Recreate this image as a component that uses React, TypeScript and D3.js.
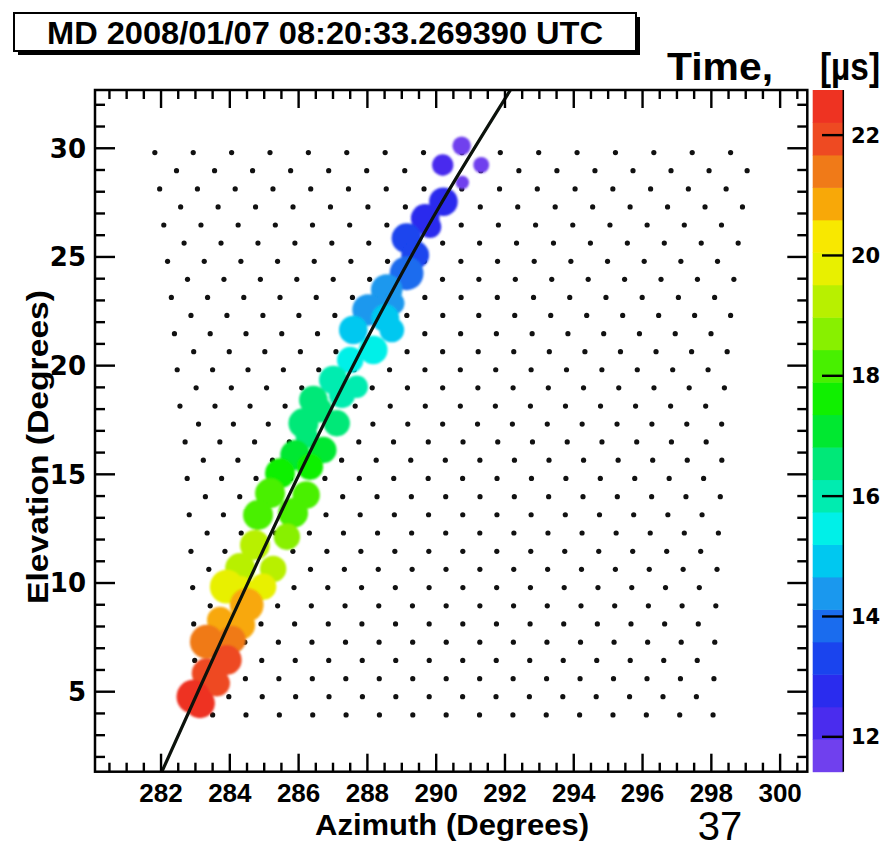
import React, { useRef, useEffect } from 'react';
import * as d3 from 'd3';

// ---- values ----
const titleText = 'MD 2008/01/07 08:20:33.269390 UTC';
const pageNumber = '37';

const azTicks = [282, 284, 286, 288, 290, 292, 294, 296, 298, 300];
const elTicks = [5, 10, 15, 20, 25, 30];
const timeTicks = [12, 14, 16, 18, 20, 22];

// PMT rows of the two cameras (lower camera first, then upper camera, bottom to top)
const pmtRowEl = [
  3.93, 4.77, 5.6, 6.44, 7.28, 8.12, 8.95, 9.79, 10.63, 11.46, 12.3, 13.14, 13.97, 14.81, 15.65, 16.49,
  17.31, 18.14, 18.98, 19.81, 20.64, 21.47, 22.31, 23.14, 23.97, 24.8, 25.64, 26.47, 27.3, 28.13, 28.97, 29.8,
];
const pmtRowFirstAz = [
  283.5, 283.0, 283.48, 282.98, 283.46, 282.95, 283.43, 282.92, 283.39, 282.87, 283.34, 282.82, 283.29, 282.76, 283.23, 282.7,
  283.09, 282.55, 283.02, 282.47, 282.95, 282.39, 282.87, 282.3, 282.77, 282.19, 282.67, 282.08, 282.57, 281.96, 282.45, 281.82,
];
const pmtRowStepAz = [
  0.97, 0.971, 0.973, 0.974, 0.976, 0.978, 0.98, 0.982, 0.985, 0.988, 0.991, 0.994, 0.998, 1.001, 1.005, 1.01,
  1.014, 1.019, 1.024, 1.029, 1.034, 1.04, 1.046, 1.053, 1.059, 1.066, 1.074, 1.081, 1.089, 1.098, 1.106, 1.116,
];
const pmtPerRow = 16;

// hit tubes: direction, signal and trigger time (us)
const hitAz = [
  290.74, 290.19, 291.31, 290.76, 290.21, 289.68, 289.82, 289.14, 289.39, 289.14, 288.56, 288.75, 288.02, 288.52,
  288.71, 287.59, 288.17, 287.5, 287.01, 287.69, 287.26, 286.43, 286.62, 286.14, 287.11, 286.24, 285.9, 286.72,
  286.33, 285.46, 285.17, 286.22, 284.82, 285.84, 284.73, 285.66, 284.3, 285.26, 283.91, 284.97, 284.3, 284.49,
  283.72, 284.3, 284.06, 283.33, 283.91, 283.33, 283.62, 282.94, 283.13,
];
const hitEl = [
  30.11, 29.23, 29.23, 28.42, 27.54, 26.78, 26.39, 25.86, 25.09, 24.25, 23.48, 22.87, 22.56, 22.18,
  21.64, 21.64, 20.72, 20.26, 19.34, 19.03, 18.65, 18.42, 17.96, 17.35, 17.35, 16.73, 15.89, 16.12,
  15.35, 15.05, 14.13, 14.05, 13.13, 13.22, 11.75, 12.13, 10.69, 10.65, 9.83, 9.83, 9.68, 8.99,
  8.3, 8.07, 7.39, 7.3, 6.46, 5.85, 5.39, 4.77, 4.47,
];
const hitSignal = [
  66, 88, 49, 35, 158, 158, 98, 173, 150, 220, 191, 98, 191, 150,
  118, 158, 158, 134, 158, 98, 130, 158, 120, 173, 134, 98, 173, 134,
  134, 173, 173, 145, 173, 173, 173, 134, 173, 134, 220, 134, 150, 220,
  134, 173, 150, 220, 173, 173, 134, 220, 173,
];
const hitTime = [
  11.7, 12.0, 11.8, 11.9, 12.5, 12.8, 13.0, 13.2, 13.4, 13.7, 14.3, 14.4, 14.6, 14.7,
  14.9, 14.8, 15.2, 15.5, 15.9, 15.9, 16.1, 16.3, 16.4, 16.5, 16.6, 16.8, 17.1, 17.1,
  17.5, 17.6, 18.0, 18.0, 18.4, 18.4, 19.0, 18.9, 19.5, 19.4, 19.9, 19.8, 20.0, 20.7,
  20.9, 21.0, 21.2, 21.4, 21.9, 22.0, 22.1, 22.5, 22.5,
];

// shower-detector plane fit, sampled along the drawn line
const fitAz = [281.95, 284, 286, 288, 290, 292.3];
const fitEl = [1.06, 8.21, 14.95, 21.27, 27.07, 33.04];

// colour bands of the time palette, low time to high time
const palette = [
  '#7040ee', '#4a2cee', '#2a2cee', '#1a44ee', '#1a6cee', '#1a98ee', '#00c8f0',
  '#00f0e8', '#00ecb0', '#00e878', '#00e830', '#10f000', '#48f000', '#88f000',
  '#b8f000', '#e8f000', '#f8e800', '#f8a808', '#f07a18', '#ee4a22', '#ee3322',
];

const FONT = "'Liberation Sans', Arial, Helvetica, sans-serif";
const WIDE = "'DejaVu Sans', Verdana, sans-serif";

function EventDisplay() {
  const svgRef = useRef<SVGSVGElement>(null);

  useEffect(() => {
    const svg = d3.select(svgRef.current);
    svg.selectAll('*').remove();

    const left = 95, right = 807.3, top = 90, bottom = 771.7;

    const x = d3.scaleLinear().domain([280.08, 300.79]).range([left, right]);
    const y = d3.scaleLinear().domain([1.32, 32.68]).range([bottom, top]);
    const r = d3.scaleSqrt().domain([0, 250]).range([0, 18]);
    const zRange: [number, number] = [11.42, 22.75];
    const color = d3.scaleQuantize<string>().domain(zRange).range(palette);
    const z = d3.scaleLinear().domain(zRange).range([bottom, top]);

    svg.append('rect').attr('width', 892).attr('height', 843).attr('fill', '#fff');

    const defs = svg.append('defs');
    defs.append('filter').attr('id', 'soft').attr('x', '-20%').attr('y', '-20%').attr('width', '140%').attr('height', '140%')
      .append('feGaussianBlur').attr('stdDeviation', 0.8);
    defs.append('clipPath').attr('id', 'plotClip').append('rect')
      .attr('x', left).attr('y', top).attr('width', right - left).attr('height', bottom - top);

    // title pave with shadow
    svg.append('rect').attr('x', 18).attr('y', 17).attr('width', 622).attr('height', 38).attr('fill', '#000');
    svg.append('rect').attr('x', 14).attr('y', 13).attr('width', 622).attr('height', 38)
      .attr('fill', '#fff').attr('stroke', '#000').attr('stroke-width', 2);
    svg.append('text').attr('x', 325).attr('y', 44).attr('text-anchor', 'middle')
      .attr('font-family', FONT).attr('font-weight', 'bold').attr('font-size', 32)
      .attr('textLength', 556).attr('lengthAdjust', 'spacingAndGlyphs')
      .text(titleText);

    const plot = svg.append('g').attr('clip-path', 'url(#plotClip)');

    // PMT grid
    const pmts: [number, number][] = [];
    pmtRowEl.forEach((el, i) => {
      for (let c = 0; c < pmtPerRow; c++) pmts.push([pmtRowFirstAz[i] + c * pmtRowStepAz[i], el]);
    });
    plot.selectAll('.pmt').data(pmts).join('circle')
      .attr('class', 'pmt')
      .attr('cx', (d) => x(d[0])).attr('cy', (d) => y(d[1]))
      .attr('r', 2.6).attr('fill', '#111');

    // hit tubes
    const hits = hitAz.map((az, i) => ({ az, el: hitEl[i], s: hitSignal[i], t: hitTime[i] }));
    plot.append('g').attr('filter', 'url(#soft)')
      .selectAll('.hit').data(hits).join('circle')
      .attr('class', 'hit')
      .attr('cx', (d) => x(d.az)).attr('cy', (d) => y(d.el))
      .attr('r', (d) => r(d.s)).attr('fill', (d) => color(d.t));

    // fit line
    const line = d3.line<number>()
      .x((d, i) => x(fitAz[i])).y((d, i) => y(fitEl[i]))
      .curve(d3.curveCatmullRom);
    plot.append('path').datum(fitAz).attr('d', line)
      .attr('fill', 'none').attr('stroke', '#0c120c').attr('stroke-width', 3.2);

    // frame and ticks
    svg.append('rect').attr('x', left).attr('y', top).attr('width', right - left).attr('height', bottom - top)
      .attr('fill', 'none').attr('stroke', '#000').attr('stroke-width', 2.5);

    const ticks = svg.append('g').attr('stroke', '#000').attr('stroke-width', 2.4);
    const azMinor = d3.range(280.5, 300.8, 0.5).filter((v) => !azTicks.includes(v));
    const elMinor = d3.range(2, 33, 1).filter((v) => !elTicks.includes(v));
    const xt = [...azTicks.map((v) => ({ v, len: 18 })), ...azMinor.map((v) => ({ v, len: 9 }))];
    const yt = [...elTicks.map((v) => ({ v, len: 20 })), ...elMinor.map((v) => ({ v, len: 10 }))];
    xt.forEach(({ v, len }) => {
      ticks.append('line').attr('x1', x(v)).attr('x2', x(v)).attr('y1', bottom).attr('y2', bottom - len);
      ticks.append('line').attr('x1', x(v)).attr('x2', x(v)).attr('y1', top).attr('y2', top + len);
    });
    yt.forEach(({ v, len }) => {
      ticks.append('line').attr('y1', y(v)).attr('y2', y(v)).attr('x1', left).attr('x2', left + len);
      ticks.append('line').attr('y1', y(v)).attr('y2', y(v)).attr('x1', right).attr('x2', right - len);
    });

    svg.selectAll('.xlab').data(azTicks).join('text')
      .attr('class', 'xlab')
      .attr('x', (d) => x(d)).attr('y', 802).attr('text-anchor', 'middle')
      .attr('font-family', FONT).attr('font-weight', 'bold').attr('font-size', 26)
      .text((d) => d);

    svg.selectAll('.ylab').data(elTicks).join('text')
      .attr('class', 'ylab')
      .attr('x', 86).attr('y', (d) => y(d)).attr('dy', '0.36em').attr('text-anchor', 'end')
      .attr('font-family', WIDE).attr('font-weight', 'bold').attr('font-size', 26)
      .text((d) => d);

    // colour bar
    const zl = 812.7, zr = 843.3;
    const bandEdges = d3.range(palette.length + 1).map((i) => zRange[0] + (i * (zRange[1] - zRange[0])) / palette.length);
    svg.selectAll('.band').data(palette).join('rect')
      .attr('class', 'band')
      .attr('x', zl).attr('width', zr - zl)
      .attr('y', (d, i) => z(bandEdges[i + 1])).attr('height', (d, i) => z(bandEdges[i]) - z(bandEdges[i + 1]) + 0.5)
      .attr('fill', (d) => d);
    svg.append('line').attr('x1', zr).attr('x2', zr).attr('y1', top).attr('y2', bottom)
      .attr('stroke', '#000').attr('stroke-width', 1.5);
    svg.selectAll('.ztick').data(timeTicks).join('line')
      .attr('class', 'ztick')
      .attr('x1', 822).attr('x2', zr).attr('y1', (d) => z(d)).attr('y2', (d) => z(d))
      .attr('stroke', '#000').attr('stroke-width', 2.4);
    svg.selectAll('.zlab').data(timeTicks).join('text')
      .attr('class', 'zlab')
      .attr('x', 851).attr('y', (d) => z(d)).attr('dy', '0.36em')
      .attr('font-family', WIDE).attr('font-weight', 'bold').attr('font-size', 21)
      .text((d) => d);

    // axis titles
    svg.append('text').attr('x', 452).attr('y', 835).attr('text-anchor', 'middle')
      .attr('font-family', FONT).attr('font-weight', 'bold').attr('font-size', 29)
      .attr('textLength', 274).attr('lengthAdjust', 'spacingAndGlyphs')
      .text('Azimuth (Degrees)');
    svg.append('text').attr('transform', 'translate(48,447) rotate(-90)').attr('text-anchor', 'middle')
      .attr('font-family', FONT).attr('font-weight', 'bold').attr('font-size', 29)
      .attr('textLength', 314).attr('lengthAdjust', 'spacingAndGlyphs')
      .text('Elevation (Degrees)');

    svg.append('text').attr('x', 667).attr('y', 80)
      .attr('font-family', FONT).attr('font-weight', 'bold').attr('font-size', 38)
      .attr('textLength', 106).attr('lengthAdjust', 'spacingAndGlyphs')
      .text('Time,');
    svg.append('text').attr('x', 880).attr('y', 80).attr('text-anchor', 'end')
      .attr('font-family', FONT).attr('font-weight', 'bold').attr('font-size', 38)
      .attr('textLength', 60).attr('lengthAdjust', 'spacingAndGlyphs')
      .text('[\u00b5s]');

    svg.append('text').attr('x', 720).attr('y', 840).attr('text-anchor', 'middle')
      .attr('font-family', FONT).attr('font-size', 40)
      .text(pageNumber);
  }, []);

  return <svg ref={svgRef} width={892} height={843} style={{ display: 'block' }} />;
}

export default function App() {
  return (
    <div style={{ position: 'absolute', left: 0, top: 0, background: '#fff' }}>
      <EventDisplay />
    </div>
  );
}
